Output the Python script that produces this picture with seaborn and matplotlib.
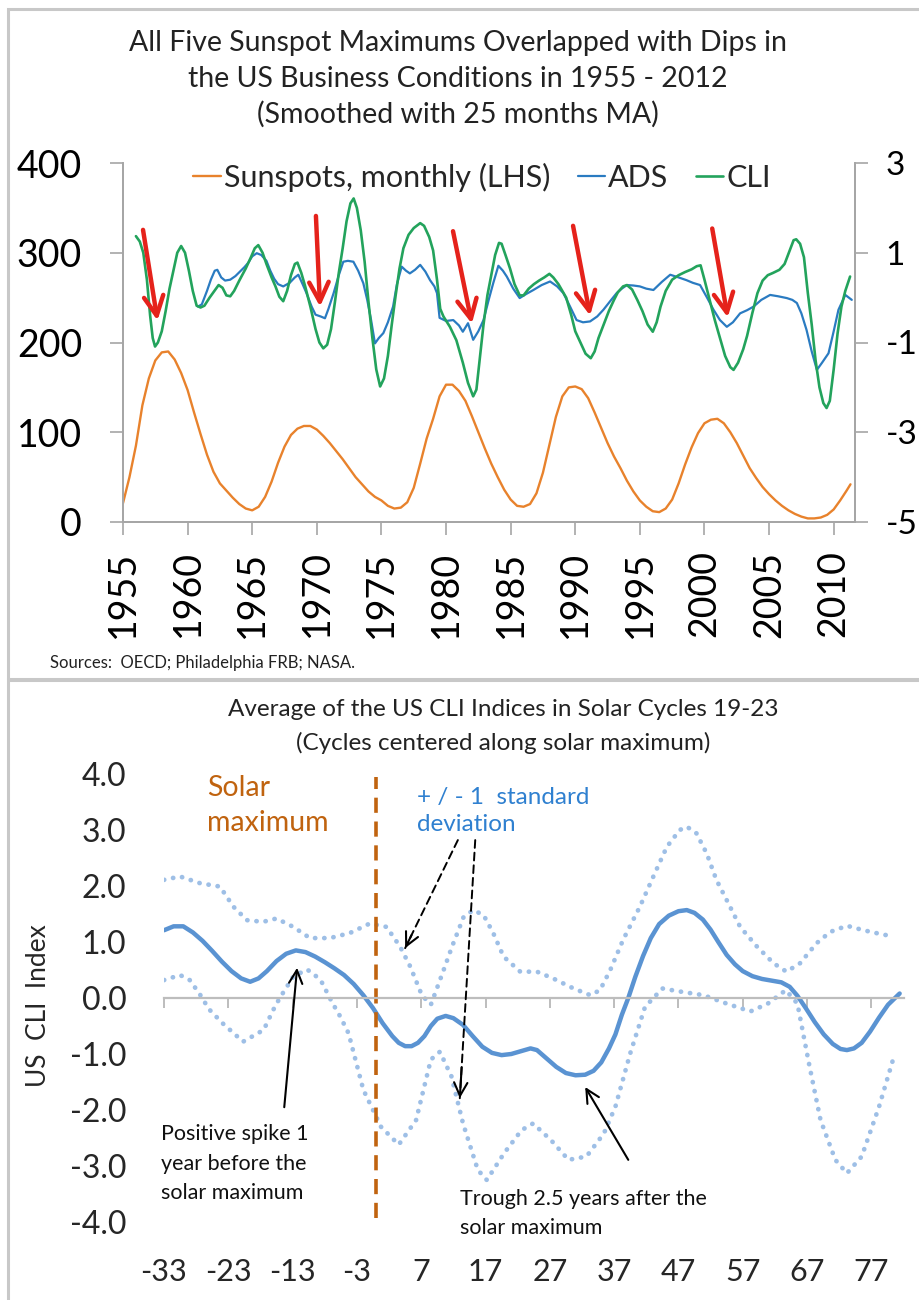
import numpy as np
import pandas as pd
import matplotlib
matplotlib.use("Agg")
import matplotlib.pyplot as plt
from matplotlib.patches import Rectangle
import seaborn as sns

# ---------------- data: top chart ----------------
sun_year = [1955.0, 1955.5, 1956.0, 1956.5, 1957.0, 1957.5, 1958.0, 1958.5, 1959.0, 1959.5,
            1960.0, 1960.5, 1961.0, 1961.5, 1962.0, 1962.5, 1963.0, 1963.5, 1964.0, 1964.5,
            1965.0, 1965.5, 1966.0, 1966.5, 1967.0, 1967.5, 1968.0, 1968.5, 1969.0, 1969.5,
            1970.0, 1970.5, 1971.0, 1971.5, 1972.0, 1972.5, 1973.0, 1973.5, 1974.0, 1974.5,
            1975.0, 1975.5, 1976.0, 1976.5, 1977.0, 1977.5, 1978.0, 1978.5, 1979.0, 1979.5,
            1980.0, 1980.5, 1981.0, 1981.5, 1982.0, 1982.5, 1983.0, 1983.5, 1984.0, 1984.5,
            1985.0, 1985.5, 1986.0, 1986.5, 1987.0, 1987.5, 1988.0, 1988.5, 1989.0, 1989.5,
            1990.0, 1990.5, 1991.0, 1991.5, 1992.0, 1992.5, 1993.0, 1993.5, 1994.0, 1994.5,
            1995.0, 1995.5, 1996.0, 1996.5, 1997.0, 1997.5, 1998.0, 1998.5, 1999.0, 1999.5,
            2000.0, 2000.5, 2001.0, 2001.5, 2002.0, 2002.5, 2003.0, 2003.5, 2004.0, 2004.5,
            2005.0, 2005.5, 2006.0, 2006.5, 2007.0, 2007.5, 2008.0, 2008.5, 2009.0, 2009.5,
            2010.0, 2010.5, 2011.0, 2011.3]
sunspots = [21, 50, 85, 130, 160, 180, 189, 190, 181, 166,
            147, 122, 98, 75, 56, 43, 35, 27, 20, 15,
            13, 17, 28, 45, 66, 84, 97, 104, 107, 107,
            103, 96, 88, 79, 70, 60, 50, 42, 34, 28,
            24, 18, 15, 16, 22, 38, 65, 93, 115, 140,
            153, 153, 146, 135, 118, 100, 82, 65, 50, 36,
            25, 18, 17, 20, 32, 55, 86, 117, 140, 150,
            151, 148, 138, 122, 105, 88, 73, 60, 46, 34,
            24, 17, 12, 11, 15, 25, 43, 64, 83, 99,
            110, 114, 115, 110, 100, 88, 74, 60, 49, 39,
            31, 24, 18, 13, 9, 6, 4, 4, 5, 8,
            14, 24, 35, 42]

cli_year = [1956.0, 1956.3, 1956.57, 1956.85, 1957.1, 1957.3, 1957.48, 1957.7, 1958.0, 1958.3,
            1958.6, 1958.9, 1959.2, 1959.5, 1959.8, 1960.1, 1960.4, 1960.7, 1961.0, 1961.3,
            1961.7, 1962.0, 1962.4, 1962.7, 1963.0, 1963.3, 1963.6, 1964.0, 1964.5, 1964.9,
            1965.2, 1965.47, 1965.8, 1966.1, 1966.5, 1966.8, 1967.1, 1967.4, 1967.7, 1968.0,
            1968.3, 1968.5, 1968.8, 1969.1, 1969.5, 1969.9, 1970.2, 1970.5, 1970.8, 1971.1,
            1971.4, 1971.7, 1972.0, 1972.3, 1972.6, 1972.85, 1973.1, 1973.4, 1973.7, 1974.0,
            1974.3, 1974.6, 1974.9, 1975.2, 1975.5, 1975.8, 1976.1, 1976.4, 1976.7, 1977.1,
            1977.5, 1978.0, 1978.3, 1978.7, 1979.0, 1979.3, 1979.55, 1979.8, 1980.3, 1980.8,
            1981.3, 1981.7, 1982.1, 1982.35, 1982.6, 1982.9, 1983.2, 1983.5, 1983.8, 1984.1,
            1984.3, 1984.6, 1984.95, 1985.3, 1985.7, 1986.0, 1986.4, 1986.8, 1987.2, 1987.6,
            1988.0, 1988.3, 1988.7, 1989.0, 1989.3, 1989.7, 1990.0, 1990.4, 1990.8, 1991.2,
            1991.5, 1991.8, 1992.2, 1992.6, 1993.0, 1993.3, 1993.7, 1994.0, 1994.4, 1994.8,
            1995.2, 1995.6, 1996.0, 1996.3, 1996.6, 1997.0, 1997.5, 1998.0, 1998.5, 1999.0,
            1999.4, 1999.7, 2000.0, 2000.4, 2000.8, 2001.2, 2001.6, 2002.0, 2002.25, 2002.6,
            2003.0, 2003.3, 2003.7, 2004.1, 2004.5, 2004.9, 2005.3, 2005.8, 2006.2, 2006.6,
            2006.9, 2007.1, 2007.4, 2007.7, 2008.0, 2008.3, 2008.6, 2008.9, 2009.2, 2009.45,
            2009.7, 2010.0, 2010.3, 2010.6, 2010.9, 2011.27]
cli_val = [1.37, 1.25, 1.0, 0.4, -0.4, -0.9, -1.09, -1.0, -0.75, -0.3,
           0.2, 0.6, 1.0, 1.15, 1.0, 0.6, 0.15, -0.18, -0.22, -0.18,
           0.0, 0.12, 0.28, 0.22, 0.05, 0.03, 0.15, 0.38, 0.65, 0.9,
           1.1, 1.17, 1.0, 0.75, 0.45, 0.25, 0.02, -0.08, 0.15, 0.5,
           0.75, 0.78, 0.55, 0.25, -0.2, -0.7, -1.0, -1.13, -1.05, -0.7,
           -0.1, 0.55, 1.1, 1.7, 2.1, 2.21, 2.0, 1.5, 0.8, -0.1,
           -0.9, -1.6, -1.98, -1.8, -1.3, -0.6, 0.05, 0.65, 1.1, 1.4,
           1.55, 1.66, 1.6, 1.35, 1.05, 0.4, -0.25, -0.42, -0.65, -0.95,
           -1.45, -1.9, -2.2, -2.05, -1.4, -0.6, 0.05, 0.5, 0.95, 1.22,
           1.2, 0.95, 0.65, 0.3, 0.05, 0.05, 0.2, 0.3, 0.38, 0.45,
           0.53, 0.45, 0.3, 0.15, 0.0, -0.4, -0.75, -1.0, -1.25, -1.35,
           -1.2, -0.9, -0.6, -0.3, -0.05, 0.12, 0.25, 0.28, 0.18, -0.05,
           -0.3, -0.6, -0.76, -0.55, -0.2, 0.15, 0.4, 0.5, 0.57, 0.63,
           0.7, 0.72, 0.4, -0.05, -0.5, -0.9, -1.3, -1.55, -1.61, -1.45,
           -1.15, -0.85, -0.35, 0.1, 0.38, 0.5, 0.55, 0.62, 0.75, 1.05,
           1.28, 1.3, 1.2, 0.9, 0.1, -0.6, -1.4, -2.0, -2.35, -2.46,
           -2.3, -1.6, -0.8, -0.2, 0.15, 0.47]

ads_year = [1960.8, 1961.1, 1961.5, 1961.8, 1962.1, 1962.3, 1962.6, 1962.9, 1963.3, 1963.7,
            1964.05, 1964.4, 1964.7, 1965.0, 1965.35, 1965.7, 1966.1, 1966.4, 1966.7, 1967.0,
            1967.4, 1967.9, 1968.3, 1968.57, 1968.9, 1969.2, 1969.6, 1969.9, 1970.3, 1970.63,
            1970.9, 1971.3, 1971.7, 1972.05, 1972.4, 1972.83, 1973.2, 1973.6, 1973.9, 1974.2,
            1974.5, 1974.8, 1975.15, 1975.5, 1975.9, 1976.2, 1976.57, 1976.9, 1977.2, 1977.6,
            1978.0, 1978.4, 1978.76, 1979.1, 1979.3, 1979.5, 1980.0, 1980.56, 1981.0, 1981.3,
            1981.7, 1982.1, 1982.5, 1982.9, 1983.3, 1983.65, 1984.05, 1984.4, 1984.7, 1985.2,
            1985.7, 1986.2, 1986.76, 1987.4, 1988.05, 1988.6, 1989.08, 1989.6, 1990.1, 1990.6,
            1991.15, 1991.7, 1992.18, 1992.7, 1993.2, 1993.6, 1994.0, 1994.5, 1995.0, 1995.5,
            1996.05, 1996.7, 1997.35, 1998.0, 1998.6, 1999.1, 1999.66, 2000.2, 2000.7, 2001.2,
            2001.73, 2002.2, 2002.76, 2003.3, 2003.8, 2004.4, 2005.08, 2005.7, 2006.37, 2006.8,
            2007.15, 2007.5, 2007.9, 2008.3, 2008.7, 2009.1, 2009.6, 2010.0, 2010.37, 2010.9,
            2011.4]
ads_val = [-0.2, -0.15, 0.15, 0.4, 0.6, 0.62, 0.45, 0.38, 0.4, 0.48,
           0.58, 0.68, 0.78, 0.92, 0.99, 0.95, 0.82, 0.6, 0.42, 0.3,
           0.25, 0.33, 0.45, 0.51, 0.3, 0.1, -0.2, -0.38, -0.42, -0.46,
           -0.25, 0.1, 0.5, 0.8, 0.82, 0.8, 0.6, 0.32, -0.05, -0.5,
           -1.02, -0.9, -0.79, -0.55, -0.2, 0.3, 0.69, 0.6, 0.54, 0.62,
           0.73, 0.58, 0.39, 0.25, 0.1, -0.45, -0.52, -0.5, -0.62, -0.76,
           -0.57, -0.94, -0.75, -0.5, -0.05, 0.32, 0.71, 0.6, 0.47, 0.2,
           -0.01, 0.08, 0.17, 0.28, 0.36, 0.25, 0.1, -0.2, -0.5, -0.55,
           -0.53, -0.42, -0.27, -0.08, 0.1, 0.2, 0.28, 0.27, 0.25, 0.2,
           0.17, 0.35, 0.51, 0.45, 0.39, 0.33, 0.28, 0.0, -0.27, -0.5,
           -0.65, -0.55, -0.35, -0.28, -0.2, -0.05, 0.06, 0.03, -0.01, -0.05,
           -0.12, -0.35, -0.72, -1.2, -1.61, -1.45, -1.24, -0.75, -0.27, 0.06,
           -0.05]

# red arrows (tail year, tail value, head year, head value) on the right axis scale
arrow_tail_year = [1956.55, 1969.93, 1980.54, 1989.83, 2000.6]
arrow_tail_val = [1.51, 1.82, 1.48, 1.60, 1.54]
arrow_head_year = [1957.67, 1970.25, 1982.0, 1991.15, 2001.8]
arrow_head_val = [-0.51, -0.20, -0.58, -0.40, -0.44]

top_xticks = [1955, 1960, 1965, 1970, 1975, 1980, 1985, 1990, 1995, 2000, 2005, 2010]
left_yticks = [0, 100, 200, 300, 400]
right_yticks = [-5, -3, -1, 1, 3]

# ---------------- data: bottom chart ----------------
mean_m = [-33, -31.5, -30.0, -28.5, -27.0, -25.5, -24.0, -22.5, -21.0, -19.6,
          -18.3, -17.0, -15.5, -14.0, -12.5, -11.0, -9.5, -8.0, -6.5, -5.0,
          -3.5, -2.0, -0.5, 1.0, 2.5, 3.5, 4.5, 5.5, 6.5, 7.5,
          8.5, 9.5, 10.8, 12.0, 13.5, 15.0, 16.5, 18.0, 19.5, 21.0,
          22.5, 24.0, 25.0, 26.5, 28.0, 29.5, 31.0, 32.5, 33.8, 35.0,
          36.2, 37.2, 38.2, 39.2, 40.3, 41.5, 42.7, 44.0, 45.5, 47.0,
          48.3, 49.5, 50.8, 52.0, 53.2, 54.5, 55.8, 57.0, 58.5, 60.0,
          61.5, 63.0, 64.3, 65.5, 66.8, 68.2, 69.6, 71.0, 72.2, 73.2,
          74.3, 75.5, 76.8, 78.2, 79.6, 81.4]
mean_v = [1.21, 1.28, 1.28, 1.17, 1.02, 0.84, 0.65, 0.48, 0.35, 0.29,
          0.35, 0.48, 0.66, 0.79, 0.85, 0.82, 0.74, 0.64, 0.53, 0.41,
          0.25, 0.05, -0.18, -0.45, -0.68, -0.8, -0.86, -0.86, -0.8, -0.68,
          -0.5, -0.37, -0.32, -0.36, -0.48, -0.68, -0.87, -0.98, -1.02, -1.0,
          -0.95, -0.9, -0.93, -1.08, -1.23, -1.34, -1.38, -1.37, -1.3, -1.15,
          -0.9, -0.65, -0.3, 0.0, 0.38, 0.75, 1.07, 1.32, 1.47, 1.55,
          1.57, 1.52, 1.40, 1.22, 1.0, 0.77, 0.6, 0.48, 0.39, 0.34,
          0.31, 0.28, 0.2, 0.04, -0.18, -0.43, -0.65, -0.82, -0.91, -0.93,
          -0.9, -0.8, -0.6, -0.35, -0.12, 0.08]

up_m = [-33, -30.5, -27.4, -24.3, -22.2, -20.1, -17.6, -15.5, -12.9, -10.3,
        -7.2, -4.1, -1.0, 1.6, 3.7, 5.3, 7.1, 8.5, 10.3, 11.8,
        13.6, 15.1, 16.7, 18.2, 19.8, 22.4, 25.0, 27.5, 30.7, 33.3,
        34.8, 36.4, 38.4, 41.0, 43.1, 45.2, 47.2, 48.3, 49.8, 51.4,
        52.9, 54.5, 56.6, 59.2, 61.8, 63.8, 65.9, 68.5, 70.6, 73.2,
        75.8, 78.9, 80.2]
up_v = [2.11, 2.17, 2.05, 1.99, 1.63, 1.39, 1.36, 1.42, 1.27, 1.07,
        1.07, 1.16, 1.33, 1.27, 0.92, 0.56, 0.05, -0.12, 0.44, 0.92,
        1.45, 1.57, 1.48, 1.16, 0.74, 0.47, 0.47, 0.35, 0.17, 0.05,
        0.14, 0.5, 1.04, 1.63, 2.17, 2.7, 3.0, 3.06, 2.94, 2.58,
        2.11, 1.75, 1.27, 0.92, 0.62, 0.47, 0.62, 0.98, 1.18, 1.29,
        1.21, 1.13, 1.11]

low_m = [-33, -30.5, -29.0, -27.5, -26.0, -23.9, -20.7, -17.5, -16.0, -15.0,
         -12.9, -10.8, -9.8, -8.5, -6.9, -5.6, -4.3, -2.0, 0.75, 3.5,
         6.2, 8.5, 9.9, 11.7, 13.5, 15.8, 17.2, 19.9, 22.6, 24.4,
         27.2, 29.9, 32.7, 35.4, 37.2, 39.5, 41.8, 44.5, 47.0, 50.9,
         54.5, 58.2, 60.9, 63.7, 65.5, 67.3, 69.1, 71.4, 73.2, 75.5,
         78.2, 80.5]
low_v = [0.32, 0.41, 0.32, 0.08, -0.2, -0.45, -0.78, -0.57, -0.21, 0.0,
         0.38, 0.51, 0.44, 0.29, -0.07, -0.33, -0.63, -1.64, -2.3, -2.62,
         -2.18, -1.1, -0.96, -1.4, -2.24, -3.07, -3.25, -2.77, -2.36, -2.24,
         -2.54, -2.89, -2.83, -2.42, -1.94, -0.99, -0.16, 0.17, 0.12, 0.05,
         -0.1, -0.24, -0.1, 0.14, -0.1, -1.17, -2.18, -2.89, -3.13, -2.83,
         -1.94, -1.05]

bottom_xticks = [-33, -23, -13, -3, 7, 17, 27, 37, 47, 57, 67, 77]
bottom_yticks = [-4, -3, -2, -1, 0, 1, 2, 3, 4]
solar_max_month = 0

# ---------------- style ----------------
sns.set_theme(style="white")
plt.rcParams['font.family'] = ['Lato', 'DejaVu Sans']
plt.rcParams['axes.unicode_minus'] = False

C_ORANGE = '#E8822C'
C_ADS = '#2A7BC1'
C_CLI = '#23A35C'
C_RED = '#E5221B'
C_MEAN = '#5A93D2'
C_BAND = '#9EBFE6'
C_BROWN = '#C0630F'
C_BLUETXT = '#2F80D0'
C_GREY = '#A6A6A6'
C_FRAME = '#C8C8C8'

W, H = 919, 1300
fig = plt.figure(figsize=(W / 100, H / 100), dpi=100)


def fx(px):
    return px / W


def fy(py):
    return 1 - py / H


# frames around the two panels
fig.add_artist(Rectangle((fx(8), fy(679)), fx(1000), 670 / H, transform=fig.transFigure,
                         fill=False, ec=C_FRAME, lw=2.2))
fig.add_artist(Rectangle((fx(8), fy(1400)), fx(1000), 720 / H, transform=fig.transFigure,
                         fill=False, ec=C_FRAME, lw=2.2))

# ================= TOP CHART =================
ax1 = fig.add_axes([fx(123), fy(522), (855 - 123) / W, (522 - 163) / H])
ax2 = ax1.twinx()

df_sun = pd.DataFrame({'year': sun_year, 'value': sunspots})
df_cli = pd.DataFrame({'year': cli_year, 'value': cli_val})
df_ads = pd.DataFrame({'year': ads_year, 'value': ads_val})

sns.lineplot(data=df_sun, x='year', y='value', ax=ax1, color=C_ORANGE, lw=1.7,
             label='Sunspots, monthly (LHS)', legend=False)
sns.lineplot(data=df_ads, x='year', y='value', ax=ax2, color=C_ADS, lw=1.6,
             label='ADS', legend=False)
sns.lineplot(data=df_cli, x='year', y='value', ax=ax2, color=C_CLI, lw=1.9,
             label='CLI', legend=False)

ax1.set_xlim(1955, 2011.65)
ax1.set_ylim(0, 400)
ax2.set_ylim(-5, 3)
ax1.set_xlabel('')
ax1.set_ylabel('')
ax2.set_ylabel('')
ax1.set_xticks(top_xticks)
ax1.set_xticklabels([str(t) for t in top_xticks], rotation=90, fontsize=27)
ax1.set_yticks(left_yticks)
ax1.set_yticklabels([str(t) for t in left_yticks], fontsize=27)
ax2.set_yticks(right_yticks)
ax2.set_yticklabels([str(t) for t in right_yticks], fontsize=24)

for a in (ax1, ax2):
    a.grid(False)
    a.set_facecolor('none')
    for s in a.spines.values():
        s.set_color(C_GREY)
        s.set_linewidth(1.3)
    a.spines['top'].set_visible(False)
ax1.tick_params(axis='both', which='both', direction='out', length=9.5, width=1.2,
                color=C_GREY, labelcolor='black')
ax1.tick_params(axis='x', pad=11, bottom=True)
ax1.tick_params(axis='y', pad=20, left=True)
ax2.tick_params(axis='y', direction='out', length=9, width=1.2, color=C_GREY,
                pad=13, right=True, labelcolor='black')

for tx, ty, hx, hy in zip(arrow_tail_year, arrow_tail_val, arrow_head_year, arrow_head_val):
    ax2.annotate('', xy=(hx, hy), xytext=(tx, ty),
                 arrowprops=dict(arrowstyle='->,head_length=0.7,head_width=0.35',
                                 color=C_RED, lw=3.2, mutation_scale=20,
                                 shrinkA=0, shrinkB=0))

handles = ax1.get_lines()[:1] + ax2.get_lines()[:2]
labels = ['Sunspots, monthly (LHS)', 'ADS', 'CLI']
ax2.legend(handles, labels, loc='center', bbox_to_anchor=(fx(482), fy(177)),
           bbox_transform=fig.transFigure, ncol=3, frameon=False, fontsize=22,
           handlelength=0.9, handletextpad=0.1, columnspacing=0.9, borderaxespad=0)

fig.text(fx(458), fy(43), 'All Five Sunspot Maximums Overlapped with Dips in',
         ha='center', va='center', fontsize=20.5, color='#222222')
fig.text(fx(458), fy(79), 'the US Business Conditions in 1955 - 2012',
         ha='center', va='center', fontsize=20.5, color='#222222')
fig.text(fx(458), fy(114), '(Smoothed with 25 months MA)',
         ha='center', va='center', fontsize=20.5, color='#222222')
fig.text(fx(50), fy(663), 'Sources:  OECD; Philadelphia FRB; NASA.',
         ha='left', va='center', fontsize=12, color='#222222')

# ================= BOTTOM CHART =================
axb = fig.add_axes([fx(164), fy(1222), (903.5 - 164) / W, (1222 - 774) / H])
df_mean = pd.DataFrame({'month': mean_m, 'value': mean_v})
df_up = pd.DataFrame({'month': up_m, 'value': up_v})
df_low = pd.DataFrame({'month': low_m, 'value': low_v})

dot_style = dict(color=C_BAND, lw=3.4, linestyle=(0, (0.05, 1.9)), dash_capstyle='round')
sns.lineplot(data=df_up, x='month', y='value', ax=axb, **dot_style)
sns.lineplot(data=df_low, x='month', y='value', ax=axb, **dot_style)
sns.lineplot(data=df_mean, x='month', y='value', ax=axb, color=C_MEAN, lw=3.2,
             solid_capstyle='round', solid_joinstyle='round')

axb.axvline(solar_max_month, ymin=0.009, ymax=0.993, color=C_BROWN, lw=2.6,
            dashes=(4.2, 2.4))

axb.set_xlim(-33, 82)
axb.set_ylim(-4, 4)
axb.set_facecolor('none')
axb.grid(False)
for s in ('top', 'right', 'left'):
    axb.spines[s].set_visible(False)
axb.spines['bottom'].set_position(('data', 0))
axb.spines['bottom'].set_color('#BDBDBD')
axb.spines['bottom'].set_linewidth(1.6)
axb.set_xticks(bottom_xticks)
axb.set_xticklabels([str(t) for t in bottom_xticks], fontsize=22)
axb.set_yticks(bottom_yticks)
axb.set_yticklabels([f'{t:.1f}' for t in bottom_yticks], fontsize=23)
axb.tick_params(axis='x', direction='out', length=7, width=1.4, color='#BDBDBD',
                pad=180, bottom=True)
axb.tick_params(axis='y', length=0, pad=27)
axb.set_xlabel('')
axb.set_ylabel('US  CLI  Index', fontsize=19)
axb.yaxis.set_label_coords(-0.153, 0.484)

fig.text(fx(503), fy(710), 'Average of the US CLI Indices in Solar Cycles 19-23',
         ha='center', va='center', fontsize=17.5, color='#222222')
fig.text(fx(503), fy(743), '(Cycles centered along solar maximum)',
         ha='center', va='center', fontsize=17.5, color='#222222')

axb.text(-26.3, 3.44, 'Solar\nmaximum', color=C_BROWN, fontsize=20.5, ha='left',
         va='center', linespacing=1.4)
axb.text(6.3, 3.34, '+ / - 1  standard\ndeviation', color=C_BLUETXT, fontsize=17.5,
         ha='left', va='center', linespacing=1.35)
axb.text(-33.5, -2.96, 'Positive spike 1\nyear before the\nsolar maximum', color='#111111',
         fontsize=15.5, ha='left', va='center', linespacing=1.6)
axb.text(13.0, -3.85, 'Trough 2.5 years after the\nsolar maximum', color='#111111',
         fontsize=15.5, ha='left', va='center', linespacing=1.6)


def dashed_arrow(ax, tail, head):
    ax.annotate('', xy=head, xytext=tail,
                arrowprops=dict(arrowstyle='-', color='black', lw=1.4, ls=(0, (4, 2.5)),
                                shrinkA=0, shrinkB=0))
    tx, ty = tail
    hx, hy = head
    bx, by = hx + (tx - hx) * 0.12, hy + (ty - hy) * 0.12
    ax.annotate('', xy=head, xytext=(bx, by),
                arrowprops=dict(arrowstyle='->,head_length=0.6,head_width=0.3', color='black',
                                lw=1.5, mutation_scale=16, shrinkA=0, shrinkB=0))


dashed_arrow(axb, (12.7, 2.82), (4.5, 0.89))
dashed_arrow(axb, (15.4, 2.82), (13.0, -1.79))
for tail, head in [((-14.3, -1.95), (-12.3, 0.54)), ((39.2, -2.89), (32.5, -1.59))]:
    axb.annotate('', xy=head, xytext=tail,
                 arrowprops=dict(arrowstyle='->,head_length=0.6,head_width=0.3',
                                 color='black', lw=1.5, mutation_scale=16,
                                 shrinkA=0, shrinkB=0))

fig.savefig('out.png', dpi=100)
